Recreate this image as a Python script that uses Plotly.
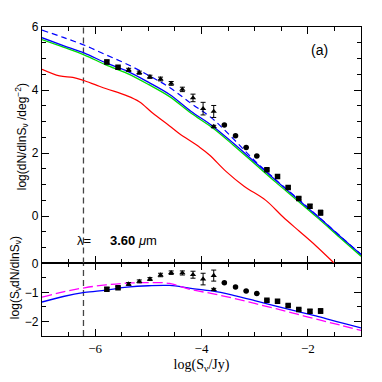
import plotly.graph_objects as go

# model curves, top panel: log(dN/dlnS)
model_x = [-7.0, -6.6, -6.2, -5.8, -5.4, -5.0, -4.6, -4.2, -3.8, -3.4, -3.0, -2.6, -2.2, -1.8, -1.4, -1.0]
blue_top = [5.66, 5.41, 5.17, 4.86, 4.60, 4.25, 3.86, 3.33, 2.87, 2.31, 1.72, 1.13, 0.55, -0.03, -0.63, -1.22]
green_top = [5.60, 5.36, 5.11, 4.80, 4.53, 4.18, 3.79, 3.27, 2.81, 2.25, 1.66, 1.07, 0.50, -0.08, -0.68, -1.27]
dashed_top = [5.90, 5.67, 5.42, 5.12, 4.82, 4.47, 4.08, 3.58, 3.10, 2.45, 1.76, 1.15, 0.57, -0.02, -0.62, -1.21]

red_x = [-7.0, -6.67, -6.42, -6.23, -6.0, -5.79, -5.42, -5.17, -4.92, -4.6, -4.42, -4.04, -3.85,
         -3.54, -3.2, -2.79, -2.47, -2.16, -1.85, -1.5, -1.4]
red_top = [4.66, 4.45, 4.40, 4.31, 4.17, 4.04, 3.83, 3.63, 3.27, 2.86, 2.62, 2.19, 1.94,
           1.42, 0.95, 0.50, -0.02, -0.48, -0.94, -1.50, -1.66]

# model curves, bottom panel: log(S dN/dlnS)
blue_bot = [-1.33, -1.14, -1.00, -0.92, -0.82, -0.77, -0.76, -0.86, -0.95, -1.10, -1.28, -1.47, -1.65, -1.83, -2.03, -2.22]
magenta_bot = [-1.16, -0.98, -0.84, -0.74, -0.68, -0.66, -0.69, -0.90, -1.04, -1.20, -1.38, -1.56, -1.75, -1.94, -2.12, -2.31]

# counts
obs_x = [-5.78, -5.57, -5.37, -5.17, -4.97, -4.77, -4.57, -4.36, -4.16, -3.97, -3.77, -3.77,
         -3.57, -3.36, -3.16, -2.96, -2.77, -2.57, -2.37, -2.17, -1.96, -1.76]
obs_top = [4.89, 4.72, 4.64, 4.55, 4.42, 4.35, 4.21, 4.02, 3.75, 3.41, 3.32, 2.84,
           2.89, 2.55, 2.18, 1.91, 1.47, 1.26, 0.91, 0.56, 0.31, 0.11]
obs_bot = [-0.89, -0.84, -0.71, -0.62, -0.54, -0.40, -0.32, -0.33, -0.39, -0.54, -0.42, -0.90,
           -0.67, -0.81, -0.95, -1.04, -1.27, -1.30, -1.45, -1.59, -1.65, -1.64]
obs_err = [0.06, 0.04, 0.05, 0.05, 0.05, 0.06, 0.06, 0.07, 0.12, 0.2, 0.19, 0.04,
           0, 0, 0, 0, 0.03, 0.03, 0.04, 0.04, 0.06, 0.08]
obs_sym = ['square', 'square'] + ['triangle-up'] * 10 + ['circle'] * 4 + ['square'] * 6

flux_limit = -6.22

fig = go.Figure()

fig.add_trace(go.Scatter(x=[flux_limit, flux_limit], y=[-1.5, 6], xaxis='x2', yaxis='y', mode='lines',
                         line=dict(color='#444', width=1.3, dash='6px,4px')))
fig.add_trace(go.Scatter(x=[flux_limit, flux_limit], y=[-2.5, 0], xaxis='x', yaxis='y2', mode='lines',
                         line=dict(color='#444', width=1.3, dash='6px,4px')))

fig.add_trace(go.Scatter(x=red_x, y=red_top, xaxis='x2', yaxis='y', mode='lines', line_shape='spline',
                         line=dict(color='#ff0000', width=1.2)))
fig.add_trace(go.Scatter(x=model_x, y=green_top, xaxis='x2', yaxis='y', mode='lines', line_shape='spline',
                         line=dict(color='#00dd00', width=1.3)))
fig.add_trace(go.Scatter(x=model_x, y=blue_top, xaxis='x2', yaxis='y', mode='lines', line_shape='spline',
                         line=dict(color='#0000ff', width=1.3)))
fig.add_trace(go.Scatter(x=model_x, y=dashed_top, xaxis='x2', yaxis='y', mode='lines', line_shape='spline',
                         line=dict(color='#0000ff', width=1.2, dash='6px,4px')))
fig.add_trace(go.Scatter(x=obs_x, y=obs_top, xaxis='x2', yaxis='y', mode='markers',
                         marker=dict(color='black', size=5.5, symbol=obs_sym),
                         error_y=dict(type='data', array=obs_err, color='black', thickness=1, width=2.5)))

fig.add_trace(go.Scatter(x=model_x, y=blue_bot, xaxis='x', yaxis='y2', mode='lines', line_shape='spline',
                         line=dict(color='#0000ff', width=1.3)))
fig.add_trace(go.Scatter(x=model_x, y=magenta_bot, xaxis='x', yaxis='y2', mode='lines', line_shape='spline',
                         line=dict(color='#ff00ff', width=1.3, dash='10px,4px')))
fig.add_trace(go.Scatter(x=obs_x, y=obs_bot, xaxis='x', yaxis='y2', mode='markers',
                         marker=dict(color='black', size=5.5, symbol=obs_sym),
                         error_y=dict(type='data', array=obs_err, color='black', thickness=1, width=2.5)))

axis_style = dict(showline=True, linecolor='black', linewidth=1.2, mirror='ticks', ticks='inside',
                  tickcolor='black', ticklen=7, showgrid=False, zeroline=False)
minor = dict(dtick=0.5, ticklen=4, ticks='inside', tickcolor='black', showgrid=False)

# the page body has an 8px margin, so the figure is 8px smaller and the margins shifted
fig.update_layout(
    width=374, height=374, showlegend=False,
    margin=dict(l=33.5, r=20.5, t=13, b=41),
    plot_bgcolor='white', paper_bgcolor='white',
    xaxis=dict(axis_style, domain=[0, 1], anchor='y2', range=[-7, -1], dtick=2, tick0=0,
               minor=minor, tickfont=dict(family='Liberation Serif', size=13, color='black'),
               title=dict(text='log(S<sub>ν</sub>/Jy)', standoff=4,
                          font=dict(family='Liberation Serif', size=14, color='black'))),
    xaxis2=dict(axis_style, domain=[0, 1], anchor='y', range=[-7, -1], matches='x', dtick=2, tick0=0,
                minor=minor, showticklabels=False),
    yaxis=dict(axis_style, domain=[0.235, 1], anchor='x2', range=[-1.5, 6], dtick=2, tick0=0,
               minor=minor, tickfont=dict(family='Liberation Sans', size=12, color='black')),
    yaxis2=dict(axis_style, domain=[0, 0.235], anchor='x', range=[-2.5, 0], dtick=1, tick0=0,
                minor=minor, tickfont=dict(family='Liberation Sans', size=12, color='black')),
)

fig.add_annotation(text='log(dN/dlnS<sub>ν</sub> /deg<sup>−2</sup>)', textangle=-90, xref='paper', yref='paper',
                   x=-0.064, y=0.645, xanchor='center', yanchor='middle', showarrow=False,
                   font=dict(family='Liberation Sans', size=12, color='black'))
fig.add_annotation(text='log(S<sub>ν</sub>dN/dlnS<sub>ν</sub>)', textangle=-90, xref='paper', yref='paper',
                   x=-0.082, y=0.19, xanchor='center', yanchor='middle', showarrow=False,
                   font=dict(family='Liberation Sans', size=12, color='black'))
fig.add_annotation(text='(a)', xref='x2', yref='y', x=-1.78, y=5.27, showarrow=False,
                   font=dict(family='Liberation Sans', size=14, color='black'))
fig.add_annotation(text='λ=', xref='x2', yref='y', x=-6.37, y=-0.76, xanchor='left', showarrow=False,
                   font=dict(family='Liberation Sans', size=13, color='black'))
fig.add_annotation(text='<b>3.60</b> <i>μ</i>m', xref='x2', yref='y', x=-5.75, y=-0.76, xanchor='left',
                   showarrow=False, font=dict(family='Liberation Sans', size=13, color='black'))

fig.write_html("out.html")
